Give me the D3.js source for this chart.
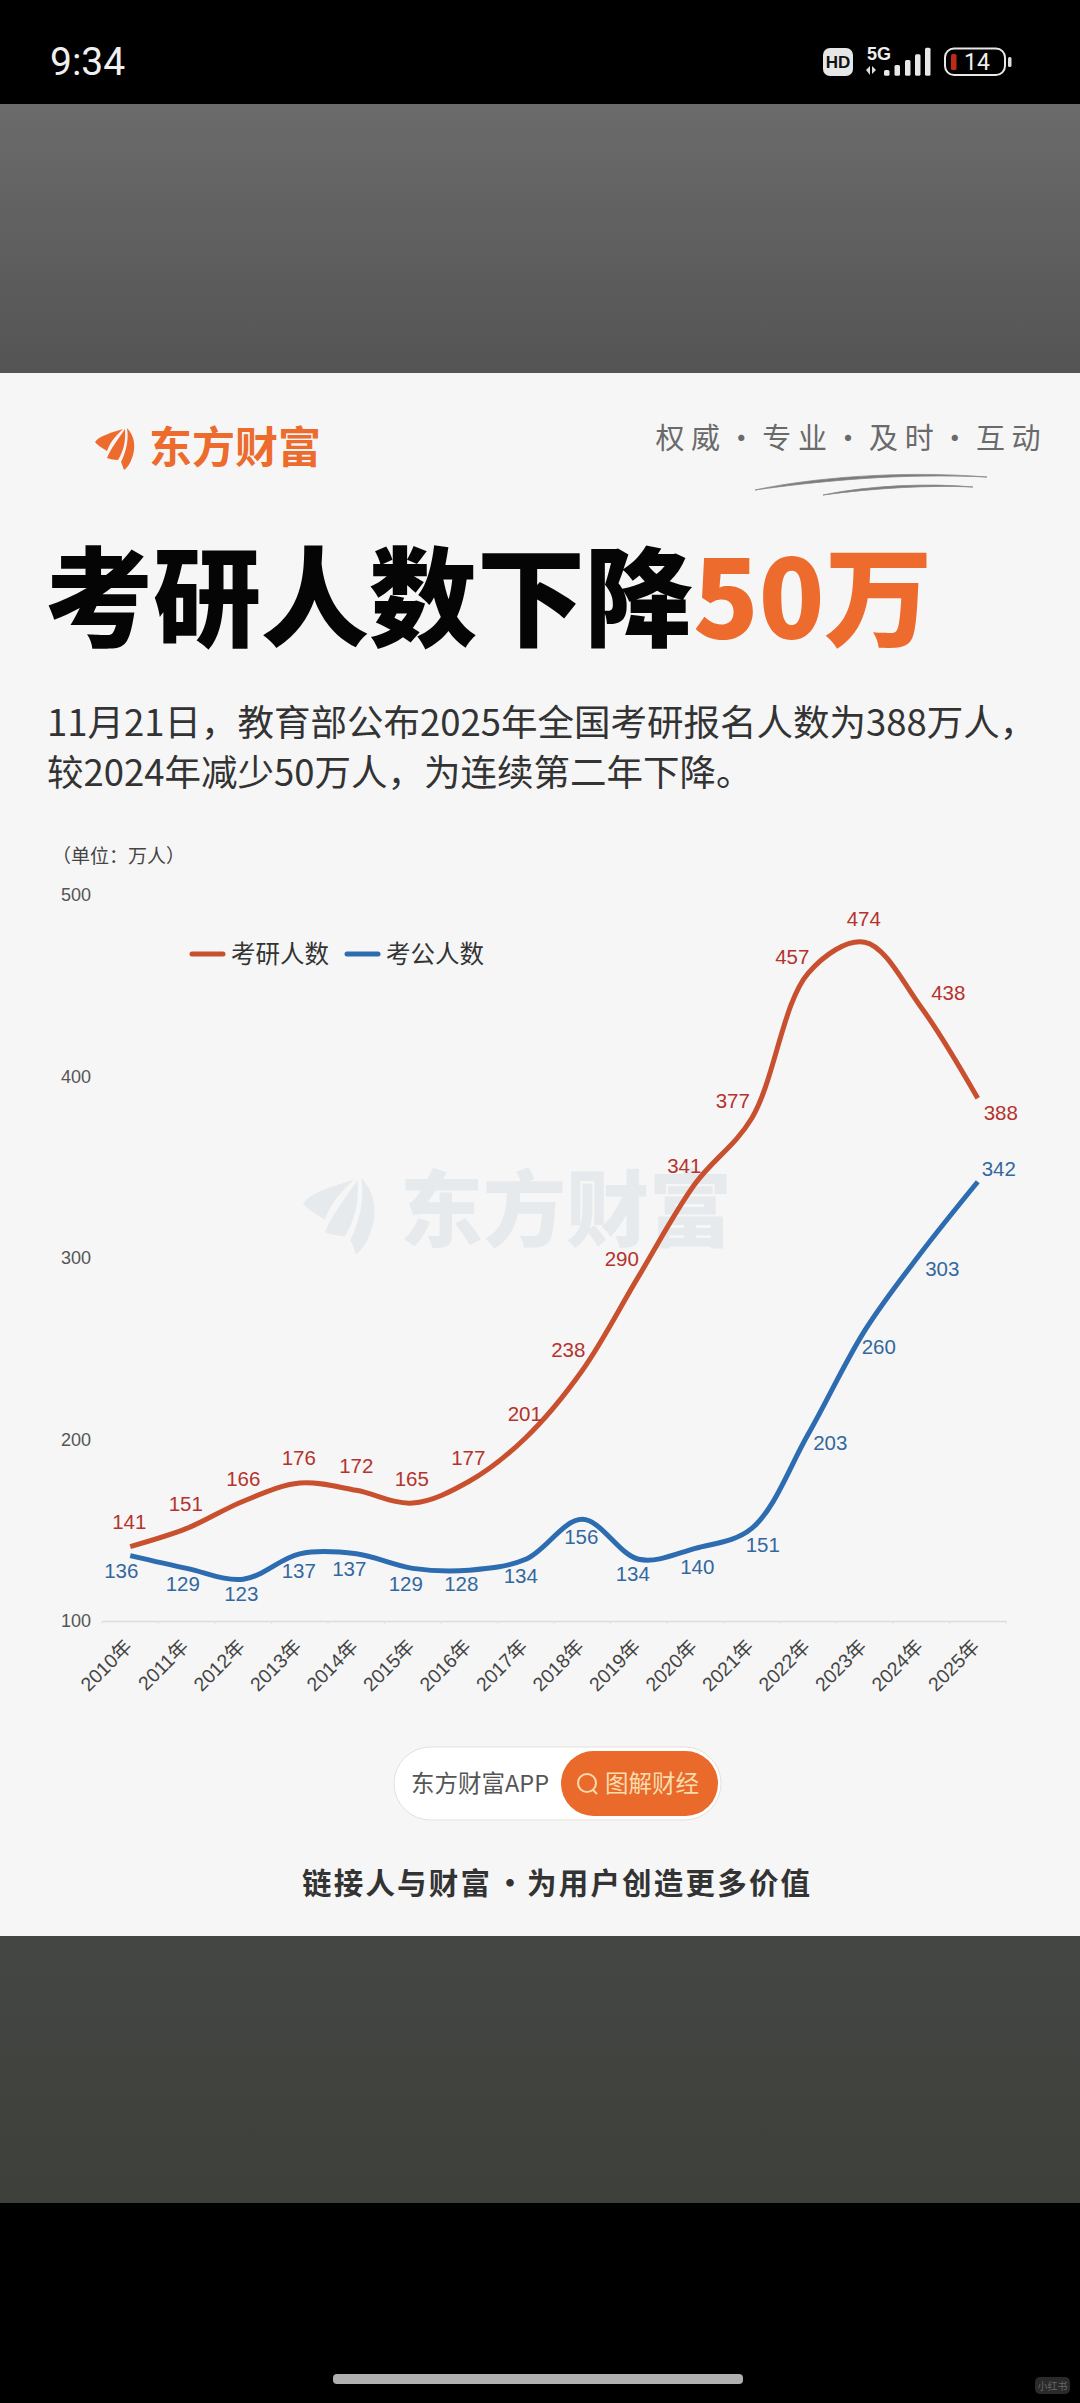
<!DOCTYPE html>
<html lang="zh">
<head>
<meta charset="utf-8">
<title>考研人数下降50万</title>
<script src="https://cdnjs.cloudflare.com/ajax/libs/d3/7.8.5/d3.min.js"></script>
<style>
  html,body{margin:0;padding:0;background:#000;}
  svg{display:block;}
  text{font-family:"Liberation Sans","Noto Sans CJK SC",sans-serif;}
  .cjk{font-family:"Noto Sans CJK SC","Liberation Sans",sans-serif;}
</style>
</head>
<body>
<svg id="c" width="1080" height="2403"></svg>
<script>
// ---------- data ----------
const years = ["2010年","2011年","2012年","2013年","2014年","2015年","2016年","2017年","2018年","2019年","2020年","2021年","2022年","2023年","2024年","2025年"];
const kaoyan = [141,151,166,176,172,165,177,201,238,290,341,377,457,474,438,388];
const kaogong = [136,129,123,137,137,129,128,134,156,134,140,151,203,260,303,342];
const yTicks = [100,200,300,400,500];
const seriesNames = ["考研人数","考公人数"];
const titleMain = "考研人数下降";
const titleAccent = "50万";
const subtitleLines = ["11月21日，教育部公布2025年全国考研报名人数为388万人，","较2024年减少50万人，为连续第二年下降。"];
const taglineChars = ["权","威","·","专","业","·","及","时","·","互","动"];

// ---------- label nudges (layout, per point) ----------
const redDx=[-1,-1,0,-1,0,-1,-1,-1,-14,-17,-11,-19,-16,-1,27,23];
const redDy=[-25,-25,-23,-25,-25,-24,-24,-24,-21,-18,-18,-18,-16,-24,-15,14];
const blueDx=[-9,-4,-2,-1,-7,-7,-8,-5,-1,-6,2,11,22,14,21,21];
const blueDy=[15,15,14,17,15,15,13,16,17,14,18,16,9,16,16,-13];

const RED="#c8502f", BLUE="#2d6cb0", RED_T="#b5332e", BLUE_T="#33689f", ORANGE="#ec6b2d";
const svg=d3.select("#c");
const defs=svg.append("defs");
const g1=defs.append("linearGradient").attr("id","gTop").attr("x1",0).attr("x2",0).attr("y1",0).attr("y2",1);
g1.append("stop").attr("offset",0).attr("stop-color","#6b6b6b");
g1.append("stop").attr("offset",1).attr("stop-color","#545454");
const g2=defs.append("linearGradient").attr("id","gBot").attr("x1",0).attr("x2",0).attr("y1",0).attr("y2",1);
g2.append("stop").attr("offset",0).attr("stop-color","#444643");
g2.append("stop").attr("offset",1).attr("stop-color","#3e403c");

// ---------- page bands ----------
svg.append("rect").attr("width",1080).attr("height",2403).attr("fill","#000");
svg.append("rect").attr("y",104).attr("width",1080).attr("height",269).attr("fill","url(#gTop)");
svg.append("rect").attr("y",373).attr("width",1080).attr("height",1563).attr("fill","#f6f6f6");
svg.append("rect").attr("y",1936).attr("width",1080).attr("height",267).attr("fill","url(#gBot)");

// ---------- status bar ----------
const status=svg.append("g");
status.append("text").attr("x",50).attr("y",75).attr("font-size",39).attr("fill","#efefef").style("font-family","Roboto").text("9:34");
status.append("rect").attr("x",823).attr("y",48).attr("width",30).attr("height",28).attr("rx",7).attr("fill","#e6e6e6");
status.append("text").attr("x",838).attr("y",68).attr("text-anchor","middle").attr("font-size",17).attr("font-weight",700).attr("fill","#111").text("HD");
status.append("text").attr("x",867).attr("y",60).attr("font-size",18).attr("font-weight",700).attr("fill","#eee").text("5G");
status.append("path").attr("d","M866 70l4-4v9zM872 66l4 4-4 4z").attr("fill","#ddd");
[[884,105],[894.5,90],[905,75],[915,58],[925,38]].forEach(([x,t])=>{
  const top=35+t/3;
  status.append("rect").attr("x",x).attr("y",top).attr("width",5.5).attr("height",75.7-top).attr("rx",1.5).attr("fill","#e8e8e8");
});
status.append("rect").attr("x",945).attr("y",48.5).attr("width",60).attr("height",26.5).attr("rx",9).attr("fill","none").attr("stroke","#e8e8e8").attr("stroke-width",2);
status.append("rect").attr("x",951).attr("y",54).attr("width",5.5).attr("height",16).attr("rx",1.5).attr("fill","#c0281c");
status.append("text").attr("x",977).attr("y",70).attr("text-anchor","middle").attr("font-size",23).attr("fill","#eee").style("font-family","Roboto").text("14");
status.append("rect").attr("x",1008).attr("y",57).attr("width",3.5).attr("height",10).attr("rx",1.5).attr("fill","#ddd");

// ---------- logo ----------
const blades=["M0 14C4 8 18 4 28 1C22 7 16 12 12 23C8 20 3 18 0 14Z",
              "M12 30C16 20 24 10 30 1C31 14 28 24 23 32C19 32 15 31 12 30Z",
              "M26 34C31 24 34 12 32 0C40 8 41 20 37 30C35 36 32 40 29 42C28 39 27 36 26 34Z"];
function logo(x,y,k,fill){
  const g=svg.append("g").attr("transform",`translate(${x},${y}) scale(${k})`);
  blades.forEach(d=>g.append("path").attr("d",d).attr("fill",fill));
}
// watermark behind the chart
logo(303,1178,1.82,"#e7eaed");
svg.append("text").attr("class","cjk").attr("x",400).attr("y",1240).attr("font-size",83).attr("font-weight",900).attr("fill","#e7eaed").text("东方财富");

logo(95,428,1,ORANGE);
svg.append("text").attr("class","cjk").attr("x",149).attr("y",463).attr("font-size",43).attr("font-weight",700).attr("fill",ORANGE).text("东方财富");

// tagline and brush strokes
const tagX=d3.scaleLinear().domain([0,10]).range([670,1026]);
svg.append("g").selectAll("text").data(taglineChars).join("text").attr("class","cjk")
  .attr("x",(d,i)=>tagX(i)).attr("y",449).attr("text-anchor","middle")
  .attr("font-size",29).attr("fill","#6a6a6a").text(d=>d);
svg.append("path").attr("d","M755 490C810 478 900 470 987 477C900 473 820 481 755 490Z").attr("fill","#7a7a7a").attr("stroke","#8a8a8a").attr("stroke-width",.8);
svg.append("path").attr("d","M823 495C870 485 930 483 973 487C930 485 875 488 823 495Z").attr("fill","#7a7a7a").attr("stroke","#8a8a8a").attr("stroke-width",.8);

// ---------- title ----------
const title=svg.append("text").attr("class","cjk").attr("x",45).attr("y",638).attr("font-size",108).attr("font-weight",900).attr("fill","#050505");
title.append("tspan").text(titleMain);
title.append("tspan").attr("fill",ORANGE).text(titleAccent);

svg.append("g").selectAll("text").data(subtitleLines).join("text").attr("class","cjk")
  .attr("x",47).attr("y",(d,i)=>736+i*50).attr("font-size",36.5).attr("fill","#333").text(d=>d);

// ---------- chart ----------
const x=d3.scaleBand().domain(years).range([102,1006]);
const y=d3.scaleLinear().domain([100,500]).range([1621,895]);
const cx=i=>x(years[i])+x.bandwidth()/2;

svg.append("text").attr("class","cjk").attr("x",52).attr("y",863).attr("font-size",19).attr("fill","#444").text("（单位：万人）");

const yAxis=svg.append("g").attr("transform","translate(91,0)").call(d3.axisLeft(y).tickValues(yTicks).tickSize(0).tickPadding(0));
yAxis.select(".domain").remove();
yAxis.selectAll("text").attr("font-size",18).attr("fill","#555").style("font-family","Liberation Sans");

const xAxis=svg.append("g").attr("transform","translate(0,1621)").call(d3.axisBottom(x).tickSize(0).tickPadding(0));
xAxis.select(".domain").attr("stroke","#dcdcdc").attr("stroke-width",1.5);
xAxis.selectAll("text").attr("font-size",19.5).attr("fill","#444").attr("text-anchor","end")
  .attr("dy",0).attr("transform","translate(3,27) rotate(-45)");
svg.append("g").selectAll("line").data(d3.range(years.length+1)).join("line")
  .attr("x1",i=>102+i*x.step()).attr("x2",i=>102+i*x.step()).attr("y1",1621).attr("y2",1624).attr("stroke","#e2e2e2");

const line=d3.line().x((d,i)=>cx(i)).y(d=>y(d)).curve(d3.curveCatmullRom.alpha(0.5));
[[kaoyan,RED],[kaogong,BLUE]].forEach(([s,c])=>{
  svg.append("path").datum(s).attr("d",line).attr("fill","none").attr("stroke",c).attr("stroke-width",5).attr("stroke-linejoin","round");
});
function labels(s,c,dx,dy){
  svg.append("g").selectAll("text").data(s).join("text")
    .attr("x",(d,i)=>cx(i)+dx[i]).attr("y",(d,i)=>y(d)+dy[i]).attr("dy","0.36em")
    .attr("text-anchor","middle").attr("font-size",20.5).attr("fill",c).text(d=>d);
}
labels(kaoyan,RED_T,redDx,redDy);
labels(kaogong,BLUE_T,blueDx,blueDy);

// legend
[[190,RED,seriesNames[0]],[345,BLUE,seriesNames[1]]].forEach(([lx,c,t])=>{
  svg.append("line").attr("x1",192).attr("x2",223).attr("transform",`translate(${lx-190},0)`).attr("y1",954).attr("y2",954).attr("stroke",c).attr("stroke-width",5).attr("stroke-linecap","round");
  svg.append("text").attr("class","cjk").attr("x",lx+41).attr("y",963).attr("font-size",24.5).attr("fill","#333").text(t);
});

// ---------- footer ----------
svg.append("rect").attr("x",394).attr("y",1747).attr("width",327).attr("height",73).attr("rx",36.5).attr("fill","#fff").attr("stroke","#eadfd8");
svg.append("rect").attr("x",561).attr("y",1751).attr("width",157).attr("height",65).attr("rx",32.5).attr("fill","#e96a2b");
svg.append("text").attr("class","cjk").attr("x",411).attr("y",1792).attr("font-size",23.5).attr("fill","#555").text("东方财富APP");
svg.append("circle").attr("cx",587).attr("cy",1783).attr("r",9).attr("fill","none").attr("stroke","#fbdcae").attr("stroke-width",2);
svg.append("line").attr("x1",593).attr("y1",1790).attr("x2",597).attr("y2",1794).attr("stroke","#fbdcae").attr("stroke-width",2);
svg.append("text").attr("class","cjk").attr("x",605).attr("y",1792).attr("font-size",23.5).attr("fill","#fbdcae").text("图解财经");
const slogan=svg.append("g").attr("class","cjk").attr("font-size",29.5).attr("font-weight",700).attr("fill","#333");
slogan.append("text").attr("class","cjk").attr("x",302).attr("y",1894).attr("letter-spacing",2.2).text("链接人与财富");
slogan.append("text").attr("class","cjk").attr("x",510).attr("y",1894).attr("text-anchor","middle").text("·");
slogan.append("text").attr("class","cjk").attr("x",527).attr("y",1894).attr("letter-spacing",2.2).text("为用户创造更多价值");

// ---------- system bar ----------
svg.append("rect").attr("x",333).attr("y",2374).attr("width",410).attr("height",10).attr("rx",4).attr("fill","#b0b0b0");
svg.append("rect").attr("x",1035).attr("y",2377).attr("width",35).attr("height",17).attr("rx",5).attr("fill","#2a2a2a");
svg.append("text").attr("class","cjk").attr("x",1052.5).attr("y",2390).attr("text-anchor","middle").attr("font-size",10).attr("fill","#666").text("小红书");
</script>
</body>
</html>
